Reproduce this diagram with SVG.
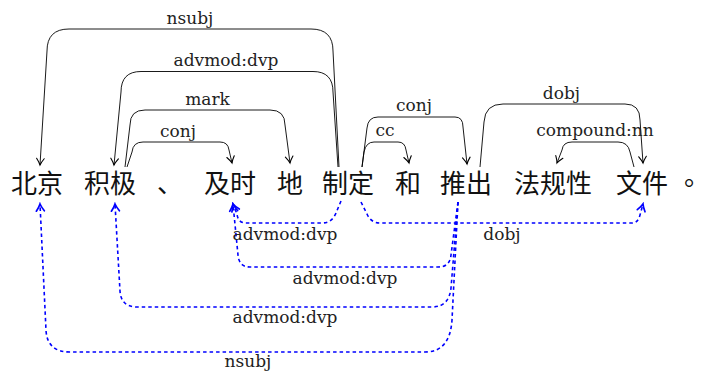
<svg xmlns="http://www.w3.org/2000/svg" width="702" height="374" viewBox="0 0 702 374">
<style>
.w{font-family:"Noto Sans CJK SC","Noto Sans CJK JP",sans-serif;font-size:26px;fill:#111}
.lbl{font-family:"DejaVu Serif",serif;font-size:17px;text-anchor:middle;fill:#222}
.top{fill:none;stroke:#000;stroke-width:0.9;marker-end:url(#ah)}
.bot{fill:none;stroke:#0000ff;stroke-width:1.6;stroke-dasharray:3.5 3;marker-end:url(#ahb)}
</style>
<defs>
<marker id="ah" viewBox="-8 -6 10 12" refX="0" refY="0" markerWidth="10" markerHeight="12" markerUnits="userSpaceOnUse" orient="auto">
<path d="M-6.5,-3.8 Q-2.5,-0.9 0,0 Q-2.5,0.9 -6.5,3.8" fill="none" stroke="#000" stroke-width="1.1" stroke-linecap="round"/>
</marker>
<marker id="ahb" viewBox="-9 -6 11 12" refX="0" refY="0" markerWidth="11" markerHeight="12" markerUnits="userSpaceOnUse" orient="auto">
<path d="M-7,-4 Q-2.8,-1 0,0 Q-2.8,1 -7,4" fill="none" stroke="#0000ff" stroke-width="1.7" stroke-linecap="round"/>
</marker>
</defs>
<rect width="702" height="374" fill="#fff"/>
<g id="w1"><text class="w" x="11" y="193">北京</text></g>
<g id="w2"><text class="w" x="84" y="193">积极</text></g>
<g id="w3"><text class="w" x="157" y="193">、</text></g>
<g id="w4"><text class="w" x="204" y="193">及时</text></g>
<g id="w5"><text class="w" x="277" y="193">地</text></g>
<g id="w6"><text class="w" x="322" y="193">制定</text></g>
<g id="w7"><text class="w" x="395" y="193">和</text></g>
<g id="w8"><text class="w" x="440" y="193">推出</text></g>
<g id="w9"><text class="w" x="514" y="193">法规性</text></g>
<g id="w10"><text class="w" x="616" y="193">文件</text></g>
<g id="w11"><text class="w" x="702" y="193" text-anchor="end" style="font-family:'Noto Sans CJK TC','Noto Sans CJK SC',sans-serif">。</text></g>
<g id="connectors">
<path class="top" d="M339,167 L333,51 Q333,29 311,29 L69,29 Q47,29 47,51 L40,165"/>
<path class="top" d="M338,167 L333,92 Q333,71.5 313,71.5 L141,71.5 Q121,71.5 121,92 L114,165"/>
<path class="top" d="M125,167 L130,125 Q130,110 145,110 L270,110 Q285,110 285,125 L290,163"/>
<path class="top" d="M127,167 L132,152 Q133,142 143,142 L220,142 Q228,142 229,150 L232,163"/>
<path class="top" d="M362,167 L367,128 Q368,117 378,117 L455,117 Q463,117 463,127 L467,164"/>
<path class="top" d="M362,167 L364,152 Q366,142 374,142 L398,142 Q405,142 406,150 L409,163"/>
<path class="top" d="M480,167 L484,122 Q485,104 503,104 L625,104 Q640,104 640,120 L643,163"/>
<path class="top" d="M634,167 L630,152 Q628,142 618,142 L572,142 Q563,142 562,150 L557,163"/>
<path class="bot" d="M341,201 L336,213 Q332,223 322,223 L246,223 Q238,223 237,214 L233,204"/>
<path class="bot" d="M361,202 L367,214 Q371,223 380,223 L632,223 Q638,223 640,215 L643,204"/>
<path class="bot" d="M458,202 L451,255 Q450,267 438,267 L250,267 Q239,267 238,255 L233,204"/>
<path class="bot" d="M458,202 L451,288 Q449,307 432,307 L137,307 Q121,307 120,291 L115,204"/>
<path class="bot" d="M458,202 L452,320 Q450,352 425,352 L70,352 Q47,352 46,330 L40,204"/>
<text class="lbl" x="190" y="23.5">nsubj</text>
<text class="lbl" x="226" y="66">advmod:dvp</text>
<text class="lbl" x="207.5" y="104.5">mark</text>
<text class="lbl" x="178" y="136.5">conj</text>
<text class="lbl" x="414" y="111">conj</text>
<text class="lbl" x="385" y="136">cc</text>
<text class="lbl" x="561.5" y="98.5">dobj</text>
<text class="lbl" x="595" y="136">compound:nn</text>
<text class="lbl" x="285" y="240">advmod:dvp</text>
<text class="lbl" x="502" y="240">dobj</text>
<text class="lbl" x="345" y="284">advmod:dvp</text>
<text class="lbl" x="285" y="323">advmod:dvp</text>
<text class="lbl" x="248" y="367">nsubj</text>
</g>
</svg>
